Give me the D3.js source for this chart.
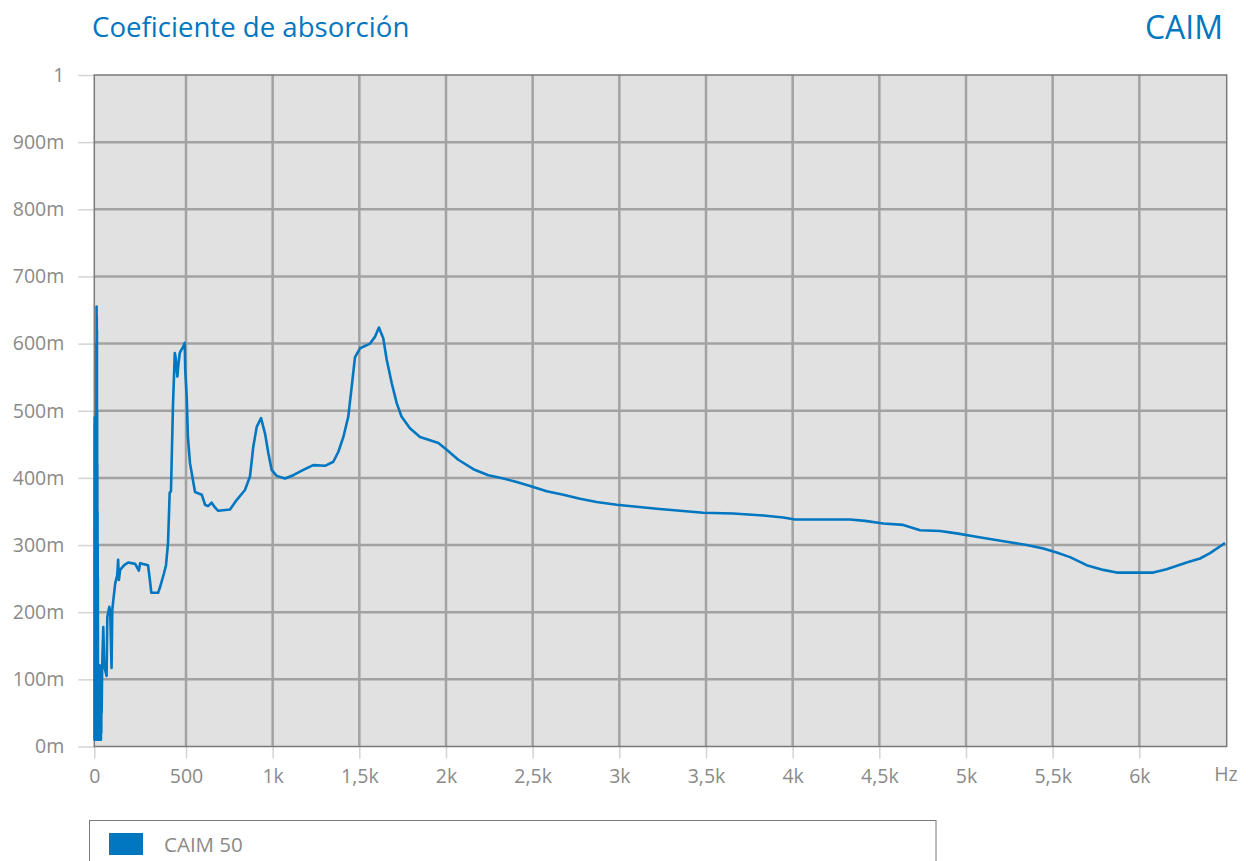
<!DOCTYPE html>
<html><head><meta charset="utf-8">
<script src="https://cdn.jsdelivr.net/npm/d3@7"></script>
<style>
html,body{margin:0;padding:0;background:#fff;}
svg{display:block;font-family:"Open Sans",sans-serif;}
</style></head>
<body>
<svg id="c" width="1253" height="861"></svg>
<script>
// ---- data ----
const seriesName = "CAIM 50";
const freqHz = [1,1.5,2,2.5,3,3.5,4,4.5,5,5.5,6,6.5,7,7.5,8,8.5,9,9.5,10,10.5,11,11.5,12,12.5,13,13.5,14,14.5,15,15.5,16,16.5,17,17.5,18,18.5,19,19.5,20,21,22,23,24,25,26,27,28,29,30,31,32,33,34,35,36,37,38,39,40,
43,49,54,67,71,82,87,94,98,103,114,125,130,134,141,163,185,223,243,250,293,303,311,348,357,380,391,402,411,418,429,439,443,453,459,466,473,484,493,496,504,511,523,542,552,591,610,627,648,667,686,754,792,840,869,888,908,933,956,975,994,1023,1071,1119,1177,1234,1302,1350,1379,1408,1436,1456,1475,1504,1562,1590,1613,1638,1658,1687,1716,1744,1792,1850,1908,1956,2004,2071,2158,2244,2331,2408,2485,2581,2677,2773,2869,2985,3100,3216,3350,3484,3657,3831,3946,4013,4331,4417,4523,4638,4735,4850,4955,5042,5138,5235,5350,5446,5523,5600,5696,5792,5869,6080,6157,6273,6350,6408,6494];
const absorption = [0.01,0.48,0.01,0.49,0.01,0.48,0.01,0.47,0.01,0.49,0.01,0.46,0.01,0.48,0.01,0.49,0.01,0.47,0.01,0.49,0.01,0.60,0.01,0.655,0.01,0.64,0.01,0.62,0.01,0.50,0.01,0.42,0.01,0.35,0.01,0.30,0.01,0.25,0.01,0.12,0.01,0.12,0.01,0.12,0.01,0.12,0.01,0.12,0.01,0.12,0.01,0.11,0.01,0.12,0.01,0.11,0.02,0.10,0.05,
0.119,0.178,0.12,0.105,0.193,0.208,0.200,0.117,0.203,0.216,0.243,0.255,0.278,0.248,0.263,0.270,0.274,0.272,0.262,0.273,0.270,0.248,0.229,0.229,0.236,0.258,0.270,0.303,0.378,0.38,0.508,0.586,0.58,0.551,0.57,0.586,0.59,0.595,0.601,0.56,0.521,0.461,0.422,0.394,0.379,0.375,0.360,0.358,0.363,0.356,0.351,0.353,0.367,0.382,0.402,0.446,0.476,0.489,0.466,0.437,0.412,0.403,0.399,0.404,0.412,0.419,0.418,0.424,0.439,0.461,0.491,0.536,0.580,0.593,0.600,0.610,0.624,0.608,0.576,0.541,0.511,0.491,0.474,0.461,0.456,0.452,0.442,0.427,0.413,0.404,0.399,0.394,0.388,0.380,0.375,0.369,0.364,0.360,0.357,0.354,0.351,0.348,0.347,0.344,0.341,0.338,0.338,0.336,0.332,0.330,0.322,0.321,0.317,0.313,0.309,0.305,0.300,0.295,0.289,0.282,0.270,0.263,0.259,0.259,0.264,0.274,0.280,0.288,0.303];
const xTickValues = [0,500,1000,1500,2000,2500,3000,3500,4000,4500,5000,5500,6000];
const xTickLabels = ["0","500","1k","1,5k","2k","2,5k","3k","3,5k","4k","4,5k","5k","5,5k","6k"];
const yTickValues = [0,0.1,0.2,0.3,0.4,0.5,0.6,0.7,0.8,0.9,1];
const yTickLabels = ["0m","100m","200m","300m","400m","500m","600m","700m","800m","900m","1"];

// ---- layout ----
const L = 94.3, R = 1226.7, T = 75, B = 746.5;
const blue = "#0077c0";
const grey = "#8a8a8a";
const svg = d3.select("#c");

const x = d3.scaleLinear().domain([0, 500, 6504]).range([L, 186, R]);
const y = d3.scaleLinear().domain([0, 1]).range([B, T]);

// title
svg.append("text").attr("x", 92).attr("y", 37).attr("fill", blue)
  .attr("font-size", 27.6).text("Coeficiente de absorción");
svg.append("text").attr("x", 1223).attr("y", 39).attr("fill", blue)
  .attr("font-size", 32).attr("text-anchor", "end").text("CAIM");

// plot background
svg.append("rect").attr("x", L).attr("y", T).attr("width", R - L).attr("height", B - T)
  .attr("fill", "#e1e1e1");

// grid
const g = svg.append("g");
g.selectAll("line.gx").data(xTickValues.slice(1)).join("line")
  .attr("x1", d => x(d)).attr("x2", d => x(d)).attr("y1", T).attr("y2", B)
  .attr("stroke", "#a2a2a2").attr("stroke-width", 2.5);
g.selectAll("line.gy").data(yTickValues.slice(1, -1)).join("line")
  .attr("y1", d => y(d)).attr("y2", d => y(d)).attr("x1", L).attr("x2", R)
  .attr("stroke", "#a2a2a2").attr("stroke-width", 2.5);

// axes (ticks outside, labels)
const xAxis = d3.axisBottom(x).tickValues(xTickValues)
  .tickFormat((d, i) => xTickLabels[i]).tickSizeInner(12).tickSizeOuter(0).tickPadding(8);
const xa = svg.append("g").attr("transform", `translate(0,${B})`).call(xAxis);
xa.select(".domain").remove();
xa.selectAll(".tick line").attr("stroke", "#d4d4d4").attr("stroke-width", 1.5);
xa.selectAll(".tick text").attr("fill", grey).attr("font-size", 19.5)
  .attr("font-family", "Open Sans").attr("dy", "0.85em");

const yAxis = d3.axisLeft(y).tickValues(yTickValues)
  .tickFormat((d, i) => yTickLabels[i]).tickSizeInner(16).tickSizeOuter(0).tickPadding(14);
const ya = svg.append("g").attr("transform", `translate(${L},0)`).call(yAxis);
ya.select(".domain").remove();
ya.selectAll(".tick line").attr("stroke", "#d4d4d4").attr("stroke-width", 1.5);
ya.selectAll(".tick text").attr("fill", grey).attr("font-size", 19.5)
  .attr("font-family", "Open Sans").attr("dy", "0.32em");

svg.append("text").attr("x", 1226).attr("y", 781).attr("fill", grey)
  .attr("font-size", 19.5).attr("text-anchor", "middle").text("Hz");

// frame
svg.append("rect").attr("x", L).attr("y", T).attr("width", R - L).attr("height", B - T)
  .attr("fill", "none").attr("stroke", "#7a7a7a").attr("stroke-width", 1.5);

// line
const pts = freqHz.map((f, i) => [f, absorption[i]]);
svg.append("path").datum(pts)
  .attr("fill", "none").attr("stroke", blue).attr("stroke-width", 2.6)
  .attr("stroke-linejoin", "round")
  .attr("d", d3.line().x(d => x(d[0])).y(d => y(d[1])));

// legend
svg.append("rect").attr("x", 89.5).attr("y", 820.5).attr("width", 846.5).attr("height", 60)
  .attr("fill", "#fff").attr("stroke", "#7a7a7a").attr("stroke-width", 1);
svg.append("rect").attr("x", 109).attr("y", 833).attr("width", 34).attr("height", 22).attr("fill", blue);
svg.append("text").attr("x", 164).attr("y", 852).attr("fill", grey).attr("font-size", 20.5)
  .text(seriesName);
</script>
</body></html>
